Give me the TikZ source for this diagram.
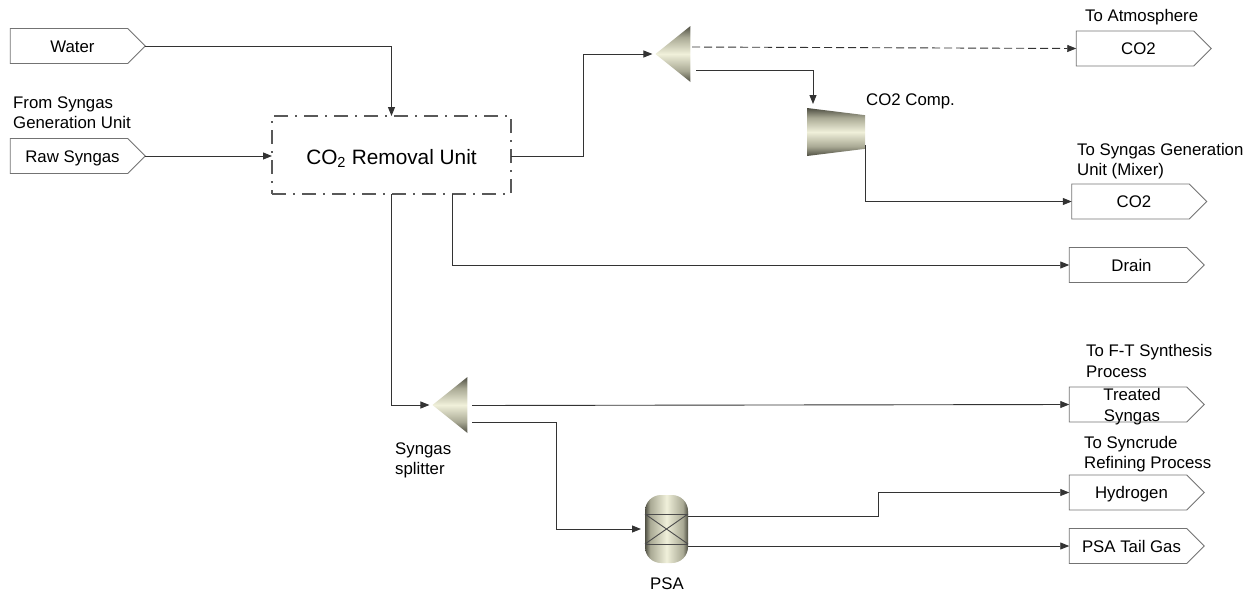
\documentclass[tikz,border=0pt]{standalone}
\usepackage{fontspec}
\setmainfont{Liberation Sans}
\usetikzlibrary{arrows.meta,shapes.geometric,shapes.symbols}
\definecolor{darkolive}{HTML}{4E4E42}
\definecolor{midolive}{HTML}{A9A994}
\definecolor{paleolive}{HTML}{F0F0DA}
\pgfdeclareverticalshading{olivev}{100bp}{color(0bp)=(darkolive); color(25bp)=(darkolive); color(35bp)=(midolive); color(50bp)=(paleolive); color(65bp)=(midolive); color(75bp)=(darkolive); color(100bp)=(darkolive)}
\pgfdeclarehorizontalshading{oliveh}{100bp}{color(0bp)=(darkolive); color(25bp)=(darkolive); color(31bp)=(midolive); color(50bp)=(paleolive); color(69bp)=(midolive); color(75bp)=(darkolive); color(100bp)=(darkolive)}
\begin{document}
\begin{tikzpicture}[
  x=1pt, y=-1pt,
  port/.style={signal, signal to=east, signal pointer angle=90, draw=black!55, line width=0.9pt,
               minimum width=135pt, minimum height=35pt, inner sep=0pt, outer sep=0pt, font=\fontsize{16.8}{20}\selectfont,
               text height=12pt, text depth=0pt, execute at begin node=\hspace*{7pt}},
  note/.style={anchor=west, align=left, inner sep=0pt, font=\fontsize{16.8}{20.5}\selectfont},
  splitter/.style={isosceles triangle, isosceles triangle stretches, shape border rotate=180, inner sep=0pt, outer sep=0pt,
                   minimum width=56pt, minimum height=35pt, shading=olivev},
  comp/.style={trapezium, trapezium stretches, trapezium angle=78, shape border rotate=270, inner sep=1pt, outer sep=0pt,
               minimum width=48pt, minimum height=58pt, shading=olivev},
  vessel/.style={rectangle, rounded corners=16pt, inner sep=0pt, outer sep=0pt, minimum width=43pt, minimum height=68pt,
                 shading=oliveh},
  farr/.style={-{Triangle[length=9pt,width=7pt]}, line width=0.9pt, draw=black!80},
  bline/.style={line width=0.9pt, draw=black!70}
]
\useasboundingbox (0,0) rectangle (1251,592);
\node[port] (water) at (69,46) {Water};
\node[port] (rawgas) at (69,156) {Raw Syngas};
\node[port] (co2a) at (1135,48.5) {CO2};
\node[port] (co2b) at (1130.5,201.5) {CO2};
\node[port] (drain) at (1128,265) {Drain};
\node[port, label={[align=center, inner sep=0pt, xshift=4pt, yshift=-2pt, font=\fontsize{16.8}{21}\selectfont]center:Treated\\Syngas}] (treated) at (1128,404.5) {};
\node[port] (hydrogen) at (1128,492.5) {Hydrogen};
\node[port] (tailgas) at (1128,546) {PSA Tail Gas};

\node[note] (fromgas) at (13,112.5) {From Syngas\\Generation Unit};
\node[note] (toatm) at (1085,17.5) {To Atmosphere};
\node[note] (tomix) at (1077,161) {To Syngas Generation\\Unit (Mixer)};
\node[note] (toft) at (1086,361) {To F-T Synthesis\\Process};
\node[note] (torefine) at (1084,454) {To Syncrude\\Refining Process};
\node[note] (compname) at (866,101) {CO2 Comp.};
\node[note] (splitname) at (395,460.5) {Syngas\\splitter};
\node[note, anchor=center] (psaname) at (667,584) {PSA};

\node[draw=black!65, line width=1.2pt, dash pattern=on 14pt off 7pt on 2pt off 7pt, minimum width=239pt, minimum height=78pt,
      inner sep=0pt, outer sep=0pt, text height=18pt, text depth=0pt, font=\fontsize{20.8}{24}\selectfont] (removal) at (391.5,155) {CO\textsubscript{2} Removal Unit};

\node[splitter] (topsplit) at (677,54) {};
\node[splitter] (gassplit) at (454,405) {};
\node[comp] (compressor) at (836,132) {};
\node[vessel] (psa) at (666.5,529) {};
\coordinate (bandtl) at (psa.west |- 0,514);
\coordinate (bandtr) at (psa.east |- 0,514);
\coordinate (bandbl) at (psa.west |- 0,544);
\coordinate (bandbr) at (psa.east |- 0,544);
\draw[bline] (bandtl) -- (bandtr);
\draw[bline] (bandbl) -- (bandbr);
\draw[bline] (bandtl) -- (bandbr);
\draw[bline] (bandbl) -- (bandtr);

\coordinate (topvent) at (692,47);
\coordinate (topfeed) at (696,70);
\coordinate (compin) at (813,104);
\coordinate (compout) at (865,145);
\coordinate (gasmain) at (472,405.5);
\coordinate (gasfeed) at (472,422);
\coordinate (psatop) at (688,516);
\coordinate (psabot) at (688,546);
\coordinate (removalout) at (452,194);
\coordinate (removalbend) at (583,156);
\coordinate (gasbend) at (556,422);
\coordinate (psabend) at (878,516);

\draw[farr] (water.east) -| (removal.north);
\draw[farr] (rawgas.east) -- (rawgas.east -| removal.west);
\draw[farr, shorten >=3pt] (removal.east |- removalbend) -- (removalbend) |- (topsplit.west);
\draw[farr, dash pattern=on 8pt off 4pt] (topvent) -- (co2a.west);
\draw[farr] (topfeed) -| (compin);
\draw[farr] (compout) |- (co2b.west);
\draw[farr] (removalout) |- (drain.west);
\draw[farr, shorten >=3pt] (removal.south) |- (gassplit.west);
\draw[farr] (gasmain) -- (treated.west);
\draw[farr, shorten >=4pt] (gasfeed) -- (gasbend) |- (psa.west);
\draw[farr] (psatop) -- (psabend) |- (hydrogen.west);
\draw[farr] (psabot) -- (tailgas.west);
\end{tikzpicture}
\end{document}
